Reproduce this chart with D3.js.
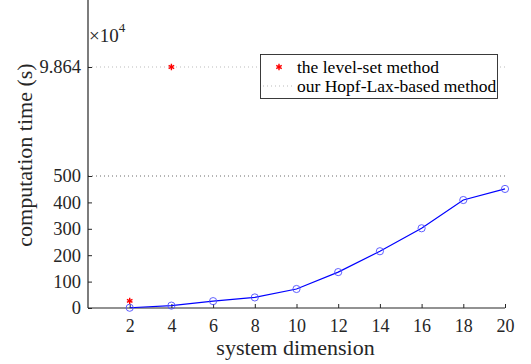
<!DOCTYPE html>
<html>
<head>
<meta charset="utf-8">
<script src="https://cdn.jsdelivr.net/npm/d3@7"></script>
<style>
  body { margin: 0; background: #fff; }
  svg { display: block; }
</style>
</head>
<body>
<svg id="chart" width="531" height="364"></svg>
<script>
const dims = [2, 4, 6, 8, 10, 12, 14, 16, 18, 20];
const hopfLaxTimes = [1, 9, 26, 40, 72, 136, 215, 302, 409, 451];
const levelSetDims = [2, 4];
const levelSetTimes = [27, 98640];
const yTicks = [0, 100, 200, 300, 400, 500, 98640];
const xTicks = [2, 4, 6, 8, 10, 12, 14, 16, 18, 20];
const legendLabels = ["the level-set method", "our Hopf-Lax-based method"];

const W = 531, H = 364;
const FONT = "'Liberation Serif', 'Times New Roman', serif";
const INK = "#262626";
const margin = { left: 88, right: 26, top: 0, bottom: 56 };
const plotBottom = H - margin.bottom;

const svg = d3.select("#chart");

const x = d3.scaleLinear().domain([0, 20]).range([margin.left, W - margin.right]);
// broken axis: linear up to 500, then a jump to the level-set value
const y = d3.scaleLinear().domain([0, 500, 98640]).range([plotBottom, 176, 67]);

// dotted reference lines
svg.append("line")
  .attr("x1", x(0)).attr("x2", x(20))
  .attr("y1", y(500)).attr("y2", y(500))
  .attr("stroke", "#444").attr("stroke-width", 0.8)
  .attr("stroke-dasharray", "1,3");
svg.append("line")
  .attr("x1", x(0)).attr("x2", x(20))
  .attr("y1", y(98640)).attr("y2", y(98640))
  .attr("stroke", "#aaa").attr("stroke-width", 0.8)
  .attr("stroke-dasharray", "1,3");

// axes
const xAxis = d3.axisBottom(x).tickValues(xTicks).tickSizeInner(-4).tickSizeOuter(0).tickPadding(11);
const gx = svg.append("g").attr("transform", `translate(0,${plotBottom})`).call(xAxis);
gx.attr("font-family", FONT).attr("font-size", 18);
gx.select(".domain").remove();
gx.append("line").attr("x1", x(0)).attr("x2", x(20)).attr("stroke", INK).attr("stroke-width", 1.2);
gx.selectAll(".tick line").attr("stroke", INK);
gx.selectAll(".tick text").attr("fill", INK);

const yAxis = d3.axisLeft(y).tickValues(yTicks).tickSizeInner(-4).tickSizeOuter(0).tickPadding(7)
  .tickFormat(d => d === 98640 ? "9.864" : d);
const gy = svg.append("g").attr("transform", `translate(${margin.left},0)`).call(yAxis);
gy.attr("font-family", FONT).attr("font-size", 18.5);
gy.select(".domain").remove();
gy.append("line").attr("y1", margin.top).attr("y2", plotBottom).attr("stroke", INK).attr("stroke-width", 1.2);
gy.selectAll(".tick line").attr("stroke", INK);
gy.selectAll(".tick text").attr("fill", INK);

// exponent label
const expo = svg.append("text").attr("x", margin.left + 1).attr("y", 42)
  .attr("font-family", FONT).attr("font-size", 19).attr("fill", INK);
expo.append("tspan").text("\u00d710");
expo.append("tspan").attr("dy", -10).attr("font-size", 13).text("4");

// axis labels
svg.append("text")
  .attr("x", x(10) - 1).attr("y", 355)
  .attr("text-anchor", "middle").attr("font-family", FONT).attr("font-size", 22).attr("fill", INK)
  .text("system dimension");
svg.append("text")
  .attr("transform", "translate(32,155) rotate(-90)")
  .attr("text-anchor", "middle").attr("font-family", FONT).attr("font-size", 22).attr("fill", INK)
  .text("computation time (s)");

// Hopf-Lax series
const line = d3.line().x((d, i) => x(dims[i])).y(d => y(d));
svg.append("path").datum(hopfLaxTimes)
  .attr("d", line).attr("fill", "none").attr("stroke", "#0000ff").attr("stroke-width", 1.2);
svg.selectAll(".hl").data(hopfLaxTimes).join("circle")
  .attr("cx", (d, i) => x(dims[i])).attr("cy", d => y(d)).attr("r", 3.6)
  .attr("fill", "none").attr("stroke", "#4f4fff").attr("stroke-width", 0.9);

// level-set asterisks
const star = d3.symbol().type(d3.symbolAsterisk).size(28);
function drawStar(g, cx, cy) {
  g.append("path").attr("d", star()).attr("transform", `translate(${cx},${cy})`)
    .attr("fill", "none").attr("stroke", "#ff0000").attr("stroke-width", 1.4);
}
levelSetTimes.forEach((d, i) => drawStar(svg, x(levelSetDims[i]), y(d)));

// legend
const lg = svg.append("g");
lg.append("rect").attr("x", 260.5).attr("y", 54.5).attr("width", 237).attr("height", 44)
  .attr("fill", "#fff").attr("stroke", INK).attr("stroke-width", 0.9);
drawStar(lg, 279, 67);
lg.append("line").attr("x1", 263).attr("x2", 294).attr("y1", 86).attr("y2", 86)
  .attr("stroke", "#aaa").attr("stroke-width", 0.8).attr("stroke-dasharray", "1,3");
legendLabels.forEach((t, i) => {
  lg.append("text").attr("x", 297).attr("y", 72.5 + i * 19.3)
    .attr("font-family", FONT).attr("font-size", 17.5).attr("fill", "#000").text(t);
});
</script>
</body>
</html>
